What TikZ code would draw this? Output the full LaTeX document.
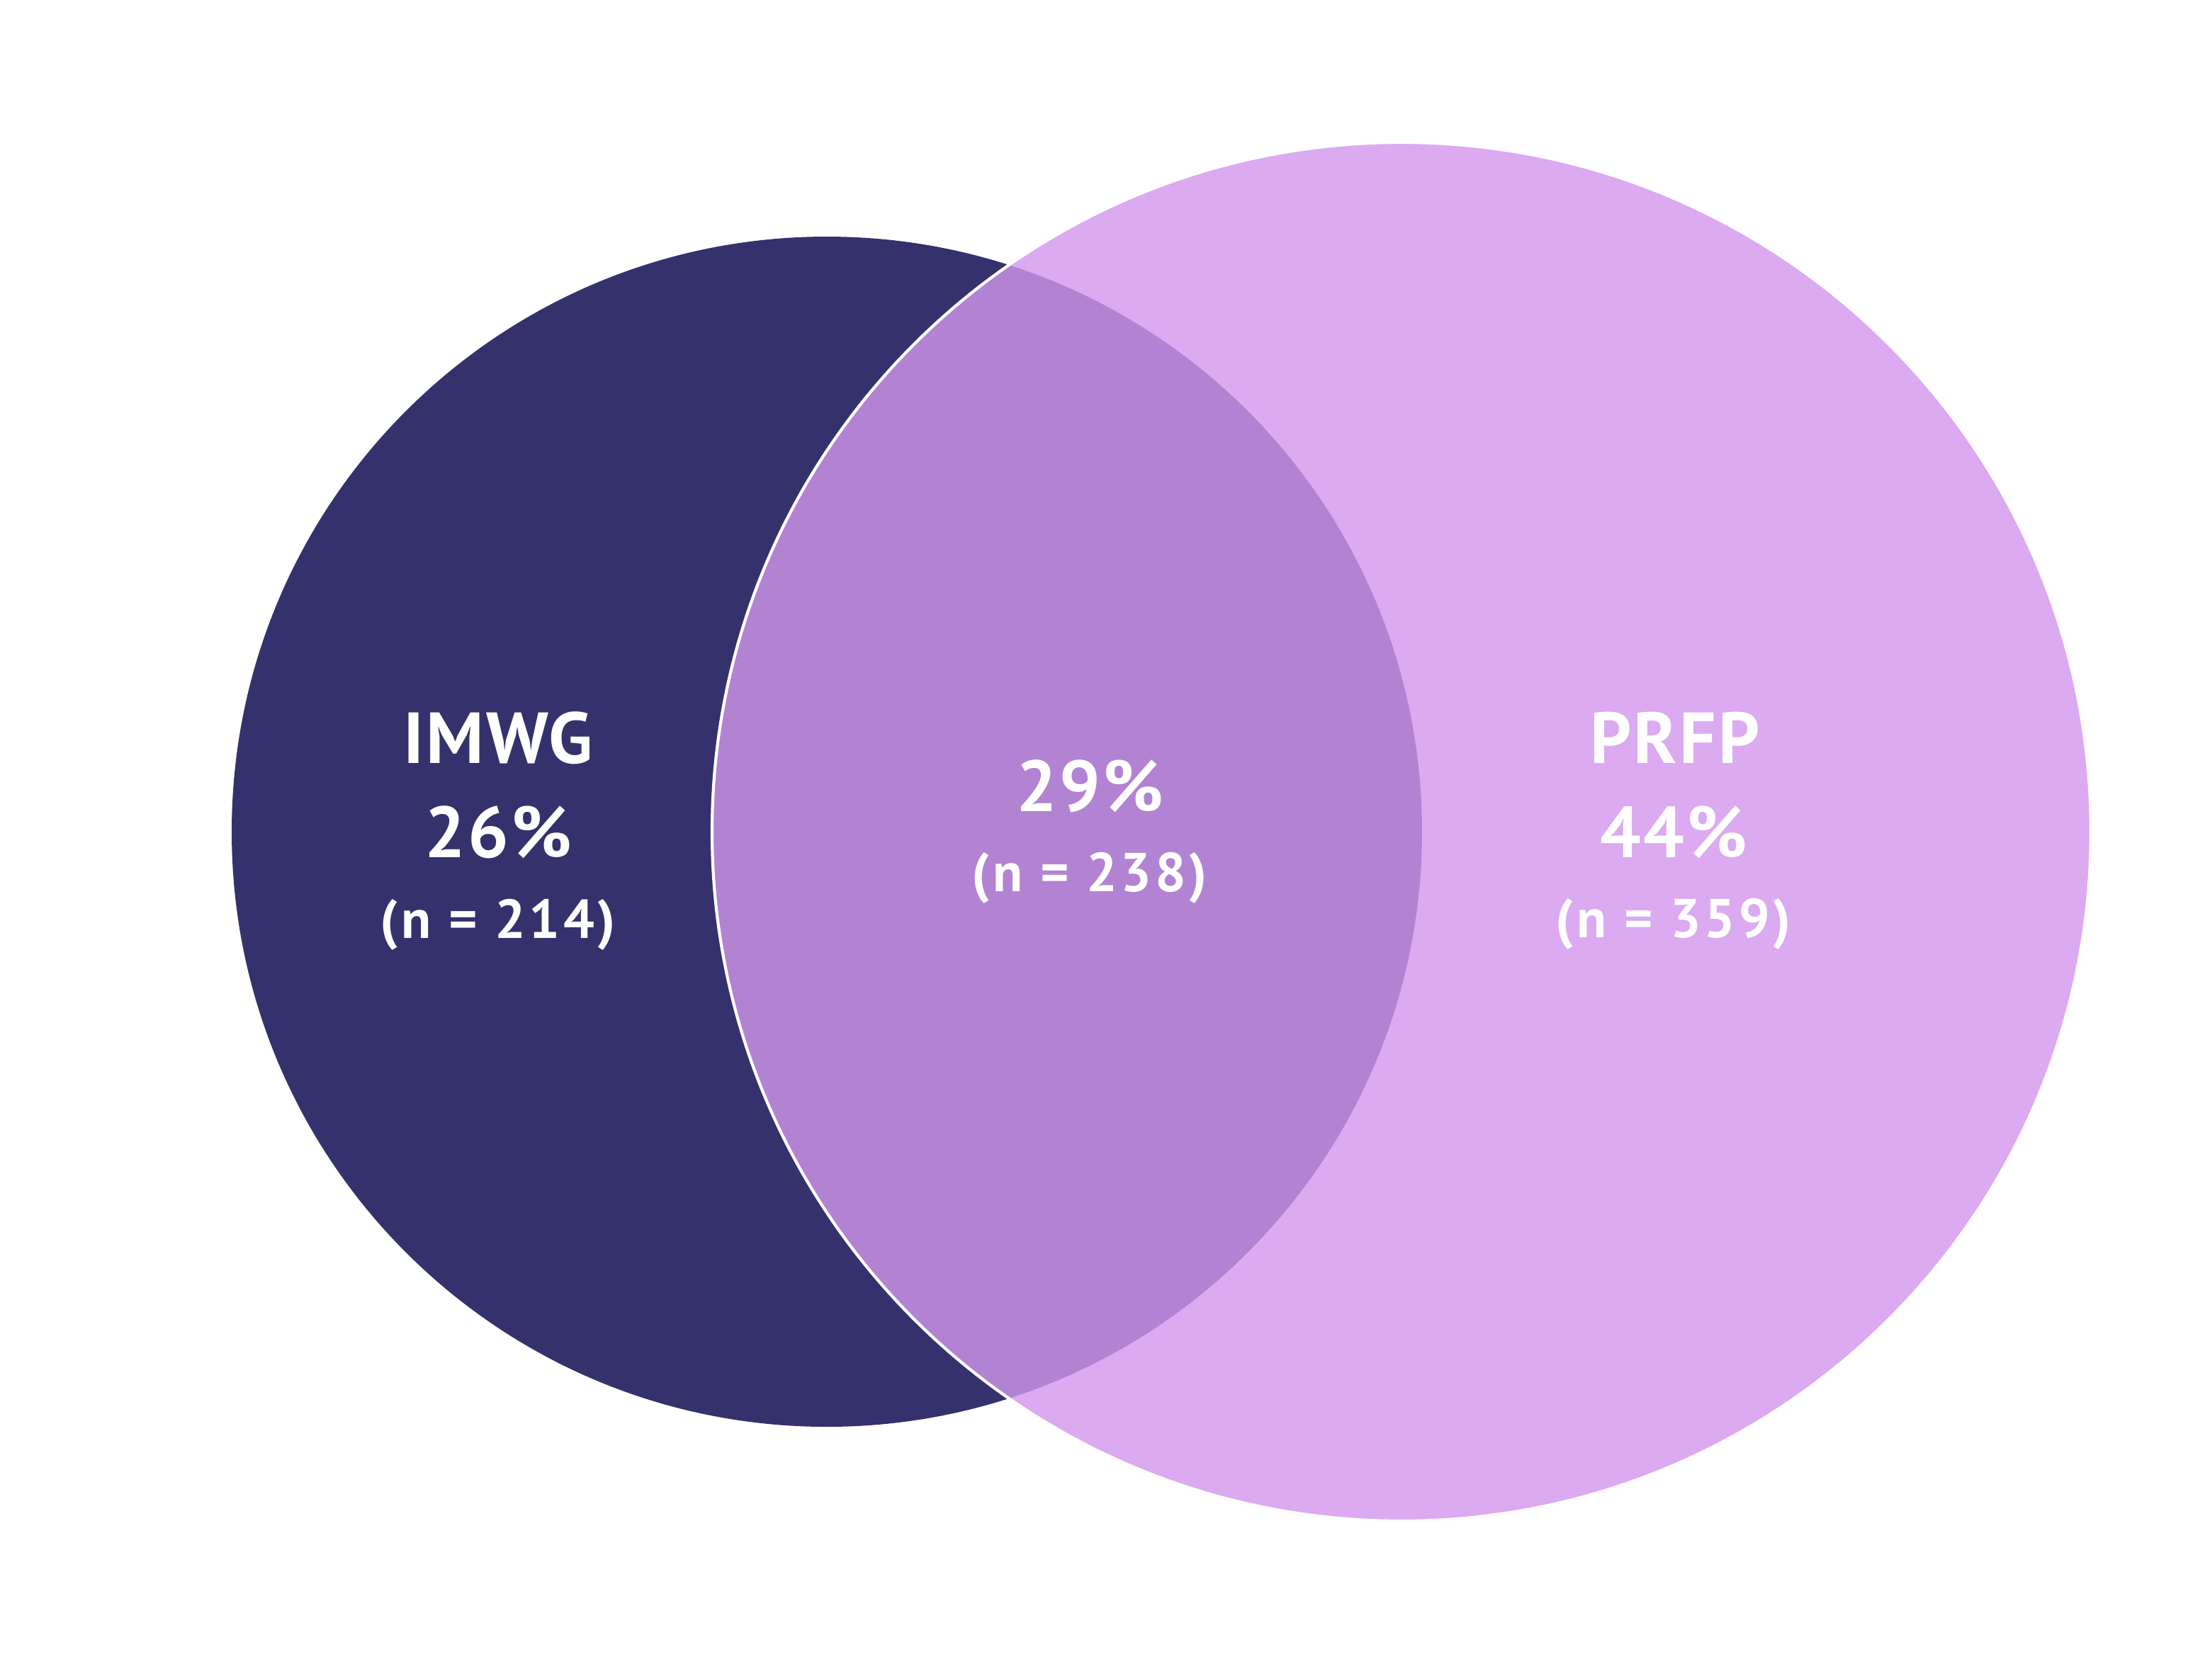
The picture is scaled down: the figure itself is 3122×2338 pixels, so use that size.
\documentclass[tikz,border=0pt]{standalone}
\usepackage{fontspec}
\setmainfont{PT Sans}
\usetikzlibrary{positioning}
\definecolor{imwgnavy}{RGB}{53,49,108}
\definecolor{prfplilac}{RGB}{220,170,241}
\definecolor{overlapviolet}{RGB}{179,131,211}

\begin{document}
\begin{tikzpicture}[x=0.01cm, y=-0.01cm,
  biglabel/.style={text=white, inner sep=0pt, anchor=base,
    font=\fontsize{29}{34}\selectfont\bfseries\addfontfeature{LetterSpace=3}},
  countlabel/.style={text=white, inner sep=0pt, anchor=base,
    font=\fontsize{22}{26}\selectfont\bfseries\addfontfeature{LetterSpace=6}}]
\useasboundingbox (0,0) rectangle (3122,2338);

% --- Cerchi
\fill[imwgnavy] (1167,1174) circle[radius=840];
\fill[prfplilac] (1978,1174) circle[radius=973];
\begin{scope}
  \clip (1167,1174) circle[radius=840];
  \fill[overlapviolet] (1978,1174) circle[radius=973];
\end{scope}
\draw[white, line width=1.2pt] (1978,1174) circle[radius=973];

% --- IMWG
\node[biglabel] (imwg) at (703,1077) {IMWG};
\node[biglabel] (imwgpct) at (703,1210) {26\%};
\node[countlabel] (imwgn) at (703,1324) {(n = 214)};

% --- Intersezione
\node[biglabel] (bothpct) at (1538,1145) {29\%};
\node[countlabel] (bothn) at (1538,1258) {(n = 238)};

% --- PRFP
\node[biglabel] (prfp) at (2364,1077) {PRFP};
\node[biglabel] (prfppct) at (2362,1210) {44\%};
\node[countlabel] (prfpn) at (2362,1323) {(n = 359)};
\end{tikzpicture}
\end{document}
